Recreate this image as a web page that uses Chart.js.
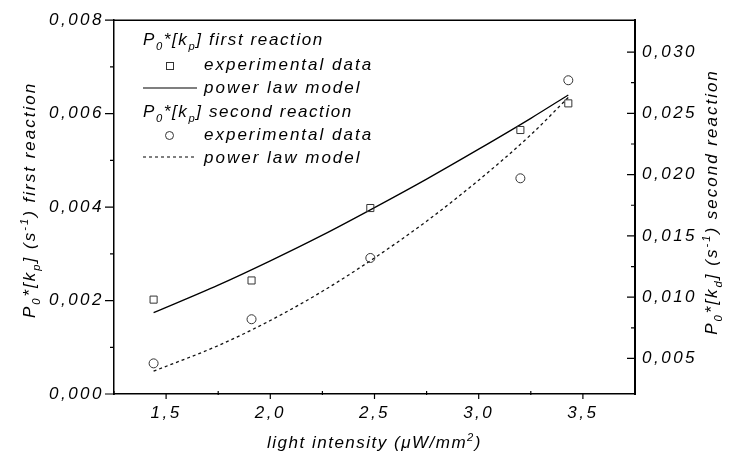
<!DOCTYPE html>
<html>
<head>
<meta charset="utf-8">
<script src="https://cdn.jsdelivr.net/npm/chart.js@4"></script>
<style>
  html, body { margin: 0; padding: 0; background: #fff; }
  #wrap { width: 734px; height: 455px; }
</style>
</head>
<body>
<div id="wrap"><canvas id="chart"></canvas></div>
<script>
// values
const intensity = [1.44, 1.91, 2.48, 3.2, 3.43];
const firstExp = [0.00202, 0.00243, 0.00398, 0.00565, 0.00622];
const secondExp = [0.0046, 0.0082, 0.0132, 0.0197, 0.0277];
const modelX = [1.44, 1.75, 2.0, 2.25, 2.5, 2.75, 3.0, 3.25, 3.43];
const firstModel = [0.00174, 0.00233, 0.00285, 0.0034, 0.00399, 0.0046, 0.00524, 0.0059, 0.0064];
const secondModel = [0.00396, 0.00605, 0.0081, 0.01048, 0.0132, 0.0162, 0.01955, 0.02325, 0.0263];
const xTicks = [1.5, 2.0, 2.5, 3.0, 3.5];
const leftTicks = [0, 0.002, 0.004, 0.006, 0.008];
const rightTicks = [0.005, 0.010, 0.015, 0.020, 0.025, 0.030];

const FONT = '"Liberation Sans", Arial, sans-serif';
const pts = (xs, ys) => xs.map((x, i) => ({ x: x, y: ys[i] }));

function drawRich(ctx, parts, x, y, size) {
  let cx = x;
  for (const [t, m] of parts) {
    const s = m ? size * 0.66 : size;
    ctx.font = 'italic ' + s + 'px ' + FONT;
    const dy = m === 1 ? size * 0.3 : (m === 2 ? -size * 0.42 : 0);
    ctx.fillText(t, cx, y + dy);
    cx += ctx.measureText(t).width;
  }
  return cx - x;
}
function richWidth(ctx, parts, size) {
  let w = 0;
  for (const [t, m] of parts) {
    ctx.font = 'italic ' + (m ? size * 0.66 : size) + 'px ' + FONT;
    w += ctx.measureText(t).width;
  }
  return w;
}

const leftTitle = [['P', 0], ['0', 1], ['*[k', 0], ['p', 1], ['] (s', 0], ['-1', 2], [') first reaction', 0]];
const rightTitle = [['P', 0], ['0', 1], ['*[k', 0], ['d', 1], ['] (s', 0], ['-1', 2], [') second reaction', 0]];
const xTitle = [['light intensity (\u03bcW/mm', 0], ['2', 2], [')', 0]];
const head1 = [['P', 0], ['0', 1], ['*[k', 0], ['p', 1], ['] first reaction', 0]];
const head2 = [['P', 0], ['0', 1], ['*[k', 0], ['p', 1], ['] second reaction', 0]];

const decor = {
  id: 'decor',
  beforeDraw(chart) {
    chart.ctx.letterSpacing = '2.5px';
  },
  afterDraw(chart) {
    const ctx = chart.ctx;
    const a = chart.chartArea;
    const sx = chart.scales.x, sy = chart.scales.y, sy2 = chart.scales.y2;
    ctx.save();
    ctx.strokeStyle = '#000';
    ctx.fillStyle = '#000';
    ctx.lineWidth = 1.5;
    // top frame line
    ctx.beginPath();
    ctx.moveTo(a.left, a.top);
    ctx.lineTo(a.right, a.top);
    ctx.stroke();

    // tick marks, minors halfway between majors
    const mids = arr => arr.slice(1).map((v, i) => (v + arr[i]) / 2);
    ctx.lineWidth = 1.2;
    ctx.beginPath();
    xTicks.forEach(v => { const p = sx.getPixelForValue(v); ctx.moveTo(p, a.bottom); ctx.lineTo(p, a.bottom + 5); });
    mids([1.0].concat(xTicks)).forEach(v => { const p = sx.getPixelForValue(v); ctx.moveTo(p, a.bottom - 3); ctx.lineTo(p, a.bottom + 1); });
    leftTicks.forEach(v => { const p = sy.getPixelForValue(v); ctx.moveTo(a.left - 9, p); ctx.lineTo(a.left, p); });
    mids(leftTicks).forEach(v => { const p = sy.getPixelForValue(v); ctx.moveTo(a.left - 4, p); ctx.lineTo(a.left, p); });
    rightTicks.forEach(v => { const p = sy2.getPixelForValue(v); ctx.moveTo(a.right - 8, p); ctx.lineTo(a.right, p); });
    mids(rightTicks).forEach(v => { const p = sy2.getPixelForValue(v); ctx.moveTo(a.right - 4, p); ctx.lineTo(a.right, p); });
    ctx.stroke();

    ctx.letterSpacing = '2px';
    ctx.textBaseline = 'alphabetic';
    ctx.textAlign = 'left';
    // axis titles
    let w = richWidth(ctx, leftTitle, 17);
    ctx.save();
    ctx.translate(35, 200);
    ctx.rotate(-Math.PI / 2);
    drawRich(ctx, leftTitle, -w / 2, 0, 17);
    ctx.restore();
    w = richWidth(ctx, rightTitle, 17);
    ctx.save();
    ctx.translate(717, 202);
    ctx.rotate(-Math.PI / 2);
    drawRich(ctx, rightTitle, -w / 2, 0, 17);
    ctx.restore();
    ctx.letterSpacing = '1.5px';
    w = richWidth(ctx, xTitle, 17);
    drawRich(ctx, xTitle, (a.left + a.right) / 2 - w / 2, 448, 17);

    // legend
    ctx.letterSpacing = '1.6px';
    drawRich(ctx, head1, 143, 45, 17);
    drawRich(ctx, head2, 143, 117, 17);
    ctx.letterSpacing = '2px';
    drawRich(ctx, [['experimental data', 0]], 204, 70, 17);
    drawRich(ctx, [['power law model', 0]], 204, 93, 17);
    drawRich(ctx, [['experimental data', 0]], 204, 140, 17);
    drawRich(ctx, [['power law model', 0]], 204, 163, 17);
    ctx.lineWidth = 1;
    ctx.strokeStyle = '#333';
    ctx.strokeRect(166.5, 62.5, 7, 7);
    ctx.beginPath();
    ctx.arc(169.5, 135.5, 4, 0, Math.PI * 2);
    ctx.stroke();
    ctx.strokeStyle = '#000';
    ctx.lineWidth = 1.2;
    ctx.beginPath();
    ctx.moveTo(143, 88); ctx.lineTo(197, 88);
    ctx.stroke();
    ctx.setLineDash([3, 3]);
    ctx.beginPath();
    ctx.moveTo(143, 157); ctx.lineTo(197, 157);
    ctx.stroke();
    ctx.restore();
  }
};

const tickFont = { family: FONT, size: 17, style: 'italic' };

new Chart(document.getElementById('chart'), {
  type: 'scatter',
  data: {
    datasets: [
      {
        label: 'experimental data',
        data: pts(intensity, firstExp),
        yAxisID: 'y',
        pointStyle: 'rect',
        pointRadius: 5,
        borderColor: '#333',
        backgroundColor: 'rgba(0,0,0,0)',
        borderWidth: 1
      },
      {
        label: 'power law model',
        data: pts(modelX, firstModel),
        yAxisID: 'y',
        showLine: true,
        pointRadius: 0,
        borderColor: '#000',
        borderWidth: 1.3,
        cubicInterpolationMode: 'monotone'
      },
      {
        label: 'experimental data',
        data: pts(intensity, secondExp),
        yAxisID: 'y2',
        pointStyle: 'circle',
        pointRadius: 4.5,
        borderColor: '#333',
        backgroundColor: 'rgba(0,0,0,0)',
        borderWidth: 1
      },
      {
        label: 'power law model',
        data: pts(modelX, secondModel),
        yAxisID: 'y2',
        showLine: true,
        pointRadius: 0,
        borderColor: '#111',
        borderWidth: 1.3,
        borderDash: [3, 3],
        cubicInterpolationMode: 'monotone'
      }
    ]
  },
  options: {
    responsive: true,
    maintainAspectRatio: false,
    animation: false,
    layout: { padding: { top: 17 } },
    plugins: { legend: { display: false }, tooltip: { enabled: false } },
    scales: {
      x: {
        type: 'linear',
        min: 1.25,
        max: 3.75,
        afterBuildTicks: s => { s.ticks = xTicks.map(v => ({ value: v })); },
        afterFit: s => { s.height = 61; },
        grid: { display: false, drawTicks: false },
        border: { color: '#000', width: 1.5 },
        ticks: { font: tickFont, color: '#000', padding: 9, maxRotation: 0,
          callback: v => v.toFixed(1).replace('.', ',') }
      },
      y: {
        position: 'left',
        min: 0,
        max: 0.008,
        afterBuildTicks: s => { s.ticks = leftTicks.map(v => ({ value: v })); },
        afterFit: s => { s.width = 114; },
        grid: { display: false, drawTicks: false },
        border: { color: '#000', width: 1.5 },
        ticks: { font: tickFont, color: '#000', padding: 10,
          callback: v => v.toFixed(3).replace('.', ',') }
      },
      y2: {
        position: 'right',
        min: 0.0021,
        max: 0.0326,
        afterBuildTicks: s => { s.ticks = rightTicks.map(v => ({ value: v })); },
        afterFit: s => { s.width = 99; },
        grid: { display: false, drawTicks: false },
        border: { color: '#000', width: 2 },
        ticks: { font: tickFont, color: '#000', padding: 7,
          callback: v => v.toFixed(3).replace('.', ',') }
      }
    }
  },
  plugins: [decor]
});
</script>
</body>
</html>
